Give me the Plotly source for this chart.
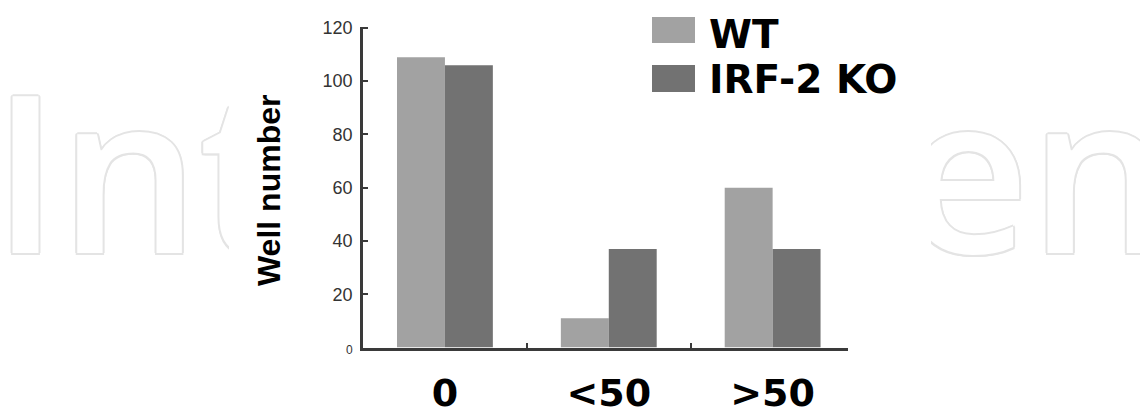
import plotly.graph_objects as go

# ---- data ----
categories = ["0", "<50", ">50"]
series_names = ["WT", "IRF-2 KO"]
wt_values = [109, 11, 60]
ko_values = [106, 37, 37]
y_tickvals = [0, 20, 40, 60, 80, 100, 120]
y_ticktext = ['<span style="font-size:12px">0</span>', "20", "40", "60", "80", "100", "120"]
y_title = "Well number"
watermark_left = "Int"
watermark_right = "en"

# ---- styling ----
W, H = 1148, 412
OFF = 8  # page body margin: figure is drawn 8px right/down in the page
WT_COLOR = "#a2a2a2"
KO_COLOR = "#727272"
AXIS_COLOR = "#3a3a3a"

def px_x(x):
    """page pixel x -> paper fraction"""
    return (x - OFF) / W

def px_y(y):
    """page pixel y (from top) -> paper fraction"""
    return 1 - (y - OFF) / H

fig = go.Figure()

fig.add_trace(go.Bar(x=categories, y=wt_values, name=series_names[0],
                     marker=dict(color=WT_COLOR, line=dict(width=0)),
                     showlegend=False, hoverinfo="skip"))
fig.add_trace(go.Bar(x=categories, y=ko_values, name=series_names[1],
                     marker=dict(color=KO_COLOR, line=dict(width=0)),
                     showlegend=False, hoverinfo="skip"))

# ---- watermark (outlined text, clipped to side regions) ----
outline = "#e4e4e4"
shadow = ", ".join(f"{dx}px {dy}px 0 {outline}" for dx, dy in
                   [(2, 0), (-2, 0), (0, 2), (0, -2), (1.5, 1.5), (-1.5, 1.5), (1.5, -1.5), (-1.5, -1.5)])
wm_font = dict(family="Open Sans", size=220, color="white", weight=600, shadow=shadow)
# side regions in page pixels; axis ranges are page pixels so positions read directly
left_region = (OFF, 229)
right_region = (931, W + OFF)
fig.add_trace(go.Scatter(x=[139], y=[198], mode="text", text=[watermark_left],
                         textposition="middle center", textfont=wm_font,
                         xaxis="x2", yaxis="y2", showlegend=False, hoverinfo="skip",
                         cliponaxis=True))
fig.add_trace(go.Scatter(x=[1036], y=[198], mode="text", text=[watermark_right],
                         textposition="middle center", textfont=wm_font,
                         xaxis="x3", yaxis="y3", showlegend=False, hoverinfo="skip",
                         cliponaxis=True))

x0, x1 = 363, 848
y_top, y_bot = 26.5, 347.5

fig.update_layout(
    width=W, height=H,
    margin=dict(l=0, r=0, t=0, b=0, pad=0),
    paper_bgcolor="white", plot_bgcolor="white",
    barmode="group", bargap=0.415, bargroupgap=0,
    showlegend=False,
    xaxis=dict(domain=[px_x(x0), px_x(x1)], range=[-0.5, 2.46], automargin=False,
               showline=True, linecolor=AXIS_COLOR, linewidth=2.5,
               ticks="inside", tickson="boundaries", ticklen=5, tickwidth=1.5, tickcolor=AXIS_COLOR,
               tickfont=dict(family="DejaVu Sans", size=38, color="black", weight="bold"),
               ticklabelstandoff=10,
               showgrid=False, zeroline=False, fixedrange=True),
    yaxis=dict(domain=[px_y(y_bot), px_y(y_top)], range=[0, 120.5], automargin=False,
               showline=True, linecolor=AXIS_COLOR, linewidth=2.5,
               ticks="inside", ticklen=5, tickwidth=1.5, tickcolor=AXIS_COLOR,
               tickvals=y_tickvals, ticktext=y_ticktext,
               tickfont=dict(family="Liberation Sans", size=18, color="#333333"),
               ticklabelstandoff=4,
               showgrid=False, zeroline=False, fixedrange=True),
    xaxis2=dict(domain=[px_x(left_region[0]), px_x(left_region[1])], range=list(left_region),
                visible=False, fixedrange=True, automargin=False),
    yaxis2=dict(domain=[0, 1], range=[H + OFF, OFF], visible=False, fixedrange=True,
                anchor="x2", automargin=False),
    xaxis3=dict(domain=[px_x(right_region[0]), 1], range=list(right_region),
                visible=False, fixedrange=True, automargin=False),
    yaxis3=dict(domain=[0, 1], range=[H + OFF, OFF], visible=False, fixedrange=True,
                anchor="x3", automargin=False),
)

# y axis title
fig.add_annotation(text=y_title, textangle=-90, x=px_x(269), y=px_y(191),
                   xref="paper", yref="paper", xanchor="center", yanchor="middle",
                   showarrow=False,
                   font=dict(family="Liberation Sans", size=32, color="black", weight="bold"))

# legend (manual, large swatches)
legend_colors = [WT_COLOR, KO_COLOR]
legend_rows = [(17, 43), (65, 92)]
legend_text_y = [34.5, 79.5]
for name, color, (ya, yb), ty in zip(series_names, legend_colors, legend_rows, legend_text_y):
    fig.add_shape(type="rect", xref="paper", yref="paper",
                  x0=px_x(652), x1=px_x(695), y0=px_y(yb), y1=px_y(ya),
                  fillcolor=color, line=dict(width=0))
    fig.add_annotation(text=name, x=px_x(707), y=px_y(ty),
                       xref="paper", yref="paper", xanchor="left", yanchor="middle",
                       showarrow=False,
                       font=dict(family="DejaVu Sans", size=39, color="black", weight="bold"))

fig.write_html("out.html")
